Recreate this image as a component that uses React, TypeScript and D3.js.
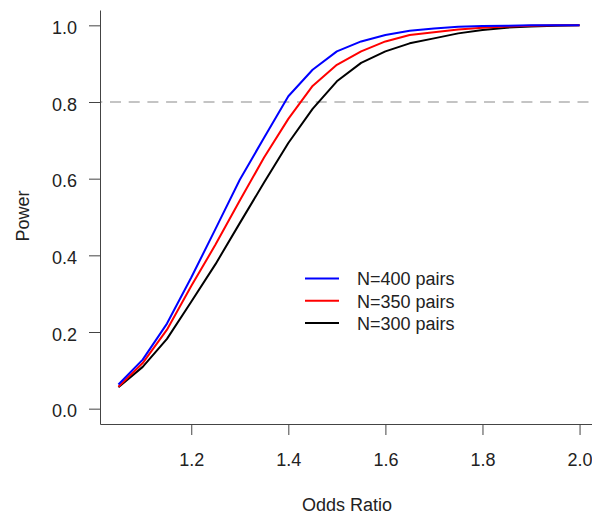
import * as d3 from "d3";
import { useEffect, useRef } from "react";

// odds ratios where power was computed
const oddsRatios = [
  1.05, 1.1, 1.15, 1.2, 1.25, 1.3, 1.35, 1.4, 1.45, 1.5,
  1.55, 1.6, 1.65, 1.7, 1.75, 1.8, 1.85, 1.9, 1.95, 2.0,
];

// power
const power400 = [
  0.063, 0.128, 0.222, 0.342, 0.469, 0.597, 0.707, 0.815, 0.884, 0.932,
  0.958, 0.975, 0.986, 0.992, 0.996, 0.998, 0.999, 1.0, 1.0, 1.0,
];
const power350 = [
  0.057, 0.119, 0.206, 0.32, 0.428, 0.543, 0.655, 0.756, 0.842, 0.897,
  0.932, 0.958, 0.975, 0.982, 0.989, 0.994, 0.997, 0.999, 1.0, 1.0,
];
const power300 = [
  0.056, 0.109, 0.182, 0.279, 0.377, 0.484, 0.59, 0.693, 0.782, 0.854,
  0.902, 0.932, 0.953, 0.966, 0.979, 0.988, 0.994, 0.997, 0.999, 1.0,
];

const seriesNames = ["N=400 pairs", "N=350 pairs", "N=300 pairs"];
const seriesColors = ["#0000ff", "#ff0000", "#000000"];
const seriesValues = [power400, power350, power300];

const xTicks = [1.2, 1.4, 1.6, 1.8, 2.0];
const yTicks = [0, 0.2, 0.4, 0.6, 0.8, 1.0];
const targetPower = 0.8;

const font = "'Liberation Sans', Arial, sans-serif";

const App = () => {
  const svgRef = useRef<SVGSVGElement | null>(null);

  useEffect(() => {
    const svg = d3.select(svgRef.current);
    svg.selectAll("*").remove();

    const x = d3.scaleLinear().domain([1.012, 2.038]).range([100, 598]);
    const y = d3.scaleLinear().domain([-0.04, 1.04]).range([424, 10]);

    // reference line at 0.8
    svg
      .append("line")
      .attr("x1", 100)
      .attr("x2", 598)
      .attr("y1", y(targetPower))
      .attr("y2", y(targetPower))
      .attr("stroke", "#c4c4c4")
      .attr("stroke-width", 2)
      .attr("stroke-dasharray", "11 7.7")
      .attr("stroke-dashoffset", 8.7);

    // curves, black first so blue ends on top
    const line = d3
      .line<number>()
      .x((_, i) => x(oddsRatios[i]))
      .y((d) => y(d));

    [2, 1, 0].forEach((k) => {
      svg
        .append("path")
        .attr("d", line(seriesValues[k]))
        .attr("fill", "none")
        .attr("stroke", seriesColors[k])
        .attr("stroke-width", 2)
        .attr("stroke-linejoin", "round");
    });

    // axes (domain path gives the L shaped box)
    const xAxis = svg
      .append("g")
      .attr("transform", "translate(0,424)")
      .call(
        d3
          .axisBottom(x)
          .tickValues(xTicks)
          .tickFormat(d3.format(".1f"))
          .tickSizeInner(11)
          .tickSizeOuter(0)
          .tickPadding(18)
      );

    const yAxis = svg
      .append("g")
      .attr("transform", "translate(100,0)")
      .call(
        d3
          .axisLeft(y)
          .tickValues(yTicks)
          .tickFormat(d3.format(".1f"))
          .tickSizeInner(11)
          .tickSizeOuter(0)
          .tickPadding(12)
      );

    [xAxis, yAxis].forEach((g) => {
      g.selectAll(".domain").attr("stroke", "#444");
      g.selectAll(".tick line").attr("stroke", "#444");
      g.selectAll(".tick text")
        .attr("fill", "#222")
        .attr("font-size", 18)
        .attr("font-family", font);
    });
    yAxis.selectAll(".tick text").attr("dy", "0.45em");

    // axis titles
    svg
      .append("text")
      .attr("x", 347)
      .attr("y", 511)
      .attr("text-anchor", "middle")
      .attr("font-size", 18)
      .attr("font-family", font)
      .attr("fill", "#222")
      .text("Odds Ratio");

    svg
      .append("text")
      .attr("transform", "translate(29,216) rotate(-90)")
      .attr("text-anchor", "middle")
      .attr("font-size", 18)
      .attr("font-family", font)
      .attr("fill", "#222")
      .text("Power");

    // legend
    const legend = svg
      .selectAll(".legend")
      .data(seriesNames)
      .enter()
      .append("g")
      .attr("class", "legend")
      .attr("transform", (_, i) => `translate(305,${278.5 + i * 22.2})`);

    legend
      .append("line")
      .attr("x1", 0)
      .attr("x2", 34)
      .attr("stroke", (_, i) => seriesColors[i])
      .attr("stroke-width", 2);

    legend
      .append("text")
      .attr("x", 52)
      .attr("y", 6.8)
      .attr("font-size", 18)
      .attr("font-family", font)
      .attr("fill", "#222")
      .text((d) => d);
  }, []);

  return (
    <div>
      <svg
        ref={svgRef}
        width={592}
        height={515}
        style={{ position: "absolute", left: 0, top: 0, background: "#fff" }}
      ></svg>
    </div>
  );
};

export default App;
